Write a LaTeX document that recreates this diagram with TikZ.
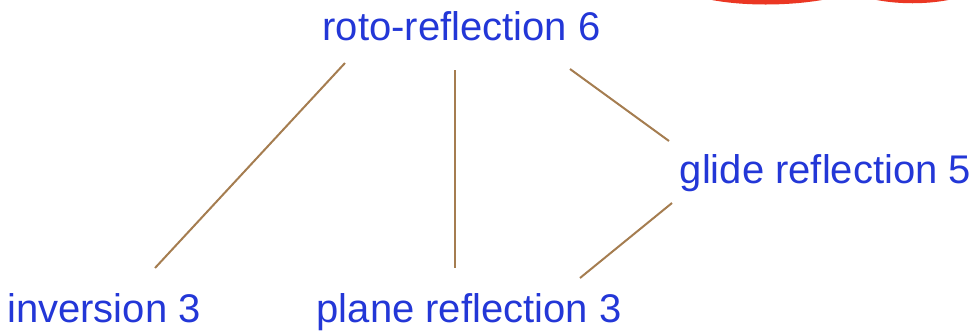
\documentclass[tikz,border=0pt]{standalone}
\usepackage{fontspec}
\setmainfont{Liberation Sans}
\usetikzlibrary{calc}
\definecolor{labelblue}{RGB}{35,55,215}
\definecolor{linebrown}{RGB}{165,125,80}
\definecolor{markred}{RGB}{235,55,35}
\begin{document}
\begin{tikzpicture}[x=1pt,y=-1pt,
  lab/.style={inner sep=0pt,anchor=base,text=labelblue,font=\fontsize{40}{44}\selectfont},
  edge/.style={draw=linebrown,line width=2pt}]
\useasboundingbox (0,0) rectangle (977,333);
\clip (0,0) rectangle (977,333);
\node[lab] (roto) at (461.5,40) {roto-reflection 6};
\node[lab] (glide) at (825.5,183) {glide reflection 5};
\node[lab] (inv) at (104,322) {inversion 3};
\node[lab] (plane) at (469,322) {plane reflection 3};
\draw[edge] ($(roto.base)+(-116.5,23)$) -- ($(inv.base)+(51,-54)$);
\draw[edge] ($(roto.base)+(-6.5,30)$) -- ($(plane.base)+(-14,-54)$);
\draw[edge] ($(roto.base)+(108.5,29)$) -- ($(glide.base)+(-156.5,-42)$);
\draw[edge] ($(glide.base)+(-153.5,20)$) -- ($(plane.base)+(111,-44)$);
\draw[markred,line width=9pt,line cap=round] (705,-6) .. controls (740,2) and (790,2) .. (830,-6);
\draw[markred,line width=8pt,line cap=round] (868,-6) .. controls (895,1) and (930,1) .. (957,-6);
\end{tikzpicture}
\end{document}
